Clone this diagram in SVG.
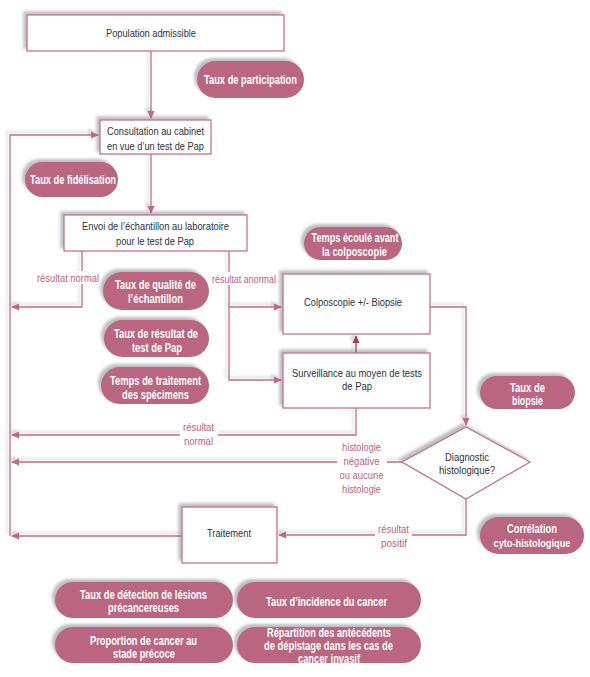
<svg xmlns="http://www.w3.org/2000/svg" width="590" height="677" viewBox="0 0 590 677">
<defs>
<filter id="sh" x="-20%" y="-30%" width="140%" height="160%">
<feDropShadow dx="-3" dy="-3" stdDeviation="1.6" flood-color="#6b7078" flood-opacity="0.45"/>
</filter>
<filter id="lsh" x="-5%" y="-5%" width="110%" height="110%">
<feDropShadow dx="-3" dy="-3" stdDeviation="1.2" flood-color="#8a9098" flood-opacity="0.35"/>
</filter>
<marker id="ah" viewBox="0 0 8 8" refX="7" refY="4" markerWidth="8" markerHeight="8" markerUnits="userSpaceOnUse" orient="auto">
<path d="M0,0.5 L8,4 L0,7.5 Z" fill="#c4668a"/>
</marker>
<marker id="ahd" viewBox="0 0 8 8" refX="7" refY="4" markerWidth="8" markerHeight="8" markerUnits="userSpaceOnUse" orient="auto">
<path d="M0,0.5 L8,4 L0,7.5 Z" fill="#a83a52"/>
</marker>
</defs>
<style>
.box{fill:#fff;stroke:#c8708e;stroke-width:1.3;filter:url(#sh)}
.pill{fill:#bb6681;filter:url(#sh)}
text{font-family:"Liberation Sans",Arial,sans-serif;text-anchor:middle}
.bt{font-size:11.5px;fill:#2b3242}
.pt{font-size:12.5px;font-weight:bold;fill:#fff}
.lt{font-size:11px;fill:#c4607f}
.c{fill:none;stroke:#c66b8b;stroke-width:1.3}
.lb{fill:#fff}
</style>

<g id="connectors" filter="url(#lsh)">
<path class="c" d="M151,51 V118" marker-end="url(#ah)"/>
<path class="c" d="M151,154 V213" marker-end="url(#ah)"/>
<path class="c" d="M10,536 V135 H98" marker-end="url(#ah)"/>
<path class="c" d="M82,251 V307 H12" marker-end="url(#ah)"/>
<path class="c" d="M229,251 V380 H281" marker-end="url(#ah)"/>
<path class="c" d="M229,307 H281" marker-end="url(#ah)"/>
<path class="c" d="M356,353 V336" style="stroke:#a83a52" marker-end="url(#ahd)"/>
<path class="c" d="M430,307 H466 V425" marker-end="url(#ah)"/>
<path class="c" d="M356,408 V435 H12" marker-end="url(#ah)"/>
<path class="c" d="M402,462 H12" marker-end="url(#ah)"/>
<path class="c" d="M466,499 V535 H279" marker-end="url(#ah)"/>
<path class="c" d="M182,536 H12" marker-end="url(#ah)"/>
</g>

<g id="labels">
<rect class="lb" x="36" y="271" width="65" height="13"/>
<text class="lt" x="68" y="282" textLength="62" lengthAdjust="spacingAndGlyphs">résultat normal</text>
<rect class="lb" x="211" y="272" width="66" height="13"/>
<text class="lt" x="244" y="283" textLength="64" lengthAdjust="spacingAndGlyphs">résultat anormal</text>
<rect class="lb" x="180" y="420" width="38" height="28"/>
<text class="lt" x="198.5" y="431" textLength="31" lengthAdjust="spacingAndGlyphs">résultat</text>
<text class="lt" x="198.5" y="445" textLength="29" lengthAdjust="spacingAndGlyphs">normal</text>
<rect class="lb" x="337" y="440" width="50" height="54"/>
<text class="lt" x="361.5" y="451" textLength="39" lengthAdjust="spacingAndGlyphs">histologie</text>
<text class="lt" x="361.5" y="465" textLength="36" lengthAdjust="spacingAndGlyphs">négative</text>
<text class="lt" x="361.5" y="479" textLength="44" lengthAdjust="spacingAndGlyphs">ou aucune</text>
<text class="lt" x="361.5" y="493" textLength="39" lengthAdjust="spacingAndGlyphs">histologie</text>
<rect class="lb" x="375" y="522" width="37" height="27"/>
<text class="lt" x="393.5" y="533" textLength="31" lengthAdjust="spacingAndGlyphs">résultat</text>
<text class="lt" x="394" y="547" textLength="26" lengthAdjust="spacingAndGlyphs">positif</text>
</g>

<g id="population"><rect class="box" x="27" y="15" width="257" height="36"/><text class="bt" x="151" y="37" textLength="90" lengthAdjust="spacingAndGlyphs">Population admissible</text></g>
<g id="consultation"><rect class="box" x="100" y="120" width="111" height="34"/><text class="bt" x="155.5" y="135" textLength="97" lengthAdjust="spacingAndGlyphs">Consultation au cabinet</text><text class="bt" x="155.5" y="150" textLength="97" lengthAdjust="spacingAndGlyphs">en vue d’un test de Pap</text></g>
<g id="envoi"><rect class="box" x="64" y="215" width="183" height="36"/><text class="bt" x="155.5" y="230" textLength="147" lengthAdjust="spacingAndGlyphs">Envoi de l’échantillon au laboratoire</text><text class="bt" x="155" y="245" textLength="78" lengthAdjust="spacingAndGlyphs">pour le test de Pap</text></g>
<g id="colposcopie"><rect class="box" x="283" y="274" width="147" height="60"/><text class="bt" x="353" y="306" textLength="98" lengthAdjust="spacingAndGlyphs">Colposcopie +/- Biopsie</text></g>
<g id="surveillance"><rect class="box" x="283" y="353" width="147" height="55"/><text class="bt" x="357" y="377" textLength="130" lengthAdjust="spacingAndGlyphs">Surveillance au moyen de tests</text><text class="bt" x="357" y="390" textLength="30" lengthAdjust="spacingAndGlyphs">de Pap</text></g>
<g id="diagnostic"><path class="box" d="M466,427 L530,462 L466,499 L402,462 Z"/><text class="bt" x="467" y="461" textLength="44" lengthAdjust="spacingAndGlyphs">Diagnostic</text><text class="bt" x="467" y="474" textLength="56" lengthAdjust="spacingAndGlyphs">histologique?</text></g>
<g id="traitement"><rect class="box" x="182" y="507" width="95" height="56"/><text class="bt" x="229" y="537" textLength="44" lengthAdjust="spacingAndGlyphs">Traitement</text></g>

<g id="taux-participation"><rect class="pill" x="197" y="61" width="107" height="37" rx="18.5"/><text class="pt" x="250.5" y="84" textLength="93" lengthAdjust="spacingAndGlyphs">Taux de participation</text></g>
<g id="taux-fidelisation"><rect class="pill" x="25" y="162" width="93" height="35" rx="17.5"/><text class="pt" x="73" y="184" textLength="86" lengthAdjust="spacingAndGlyphs">Taux de fidélisation</text></g>
<g id="temps-ecoule"><rect class="pill" x="304" y="227" width="98" height="33" rx="16.5"/><text class="pt" x="355" y="241.5" textLength="87" lengthAdjust="spacingAndGlyphs">Temps écoulé avant</text><text class="pt" x="354.5" y="255.5" textLength="65" lengthAdjust="spacingAndGlyphs">la colposcopie</text></g>
<g id="taux-qualite"><rect class="pill" x="103" y="272" width="106" height="38" rx="19"/><text class="pt" x="155.5" y="288.5" textLength="81" lengthAdjust="spacingAndGlyphs">Taux de qualité de</text><text class="pt" x="155.5" y="302.5" textLength="55" lengthAdjust="spacingAndGlyphs">l’échantillon</text></g>
<g id="taux-resultat"><rect class="pill" x="104" y="320" width="105" height="37" rx="18.5"/><text class="pt" x="156" y="337.5" textLength="84" lengthAdjust="spacingAndGlyphs">Taux de résultat de</text><text class="pt" x="157" y="351.5" textLength="50" lengthAdjust="spacingAndGlyphs">test de Pap</text></g>
<g id="temps-traitement"><rect class="pill" x="101" y="367" width="108" height="37" rx="18.5"/><text class="pt" x="155.5" y="384.5" textLength="91" lengthAdjust="spacingAndGlyphs">Temps de traitement</text><text class="pt" x="155.5" y="398.5" textLength="67" lengthAdjust="spacingAndGlyphs">des spécimens</text></g>
<g id="taux-biopsie"><rect class="pill" x="480" y="376" width="95" height="33" rx="16.5"/><text class="pt" x="527.5" y="391.5" textLength="35" lengthAdjust="spacingAndGlyphs">Taux de</text><text class="pt" x="527.5" y="404.5" textLength="31" lengthAdjust="spacingAndGlyphs">biopsie</text></g>
<g id="correlation"><rect class="pill" x="480" y="517" width="104" height="37" rx="18.5"/><text class="pt" x="532" y="532.5" textLength="50" lengthAdjust="spacingAndGlyphs">Corrélation</text><text class="pt" x="532" y="546.5" style="font-size:11.5px" textLength="77" lengthAdjust="spacingAndGlyphs">cyto-histologique</text></g>
<g id="taux-detection"><rect class="pill" x="55" y="582" width="178" height="36" rx="18"/><text class="pt" x="143.5" y="598.5" textLength="127" lengthAdjust="spacingAndGlyphs">Taux de détection de lésions</text><text class="pt" x="143.5" y="611.5" textLength="71" lengthAdjust="spacingAndGlyphs">précancereuses</text></g>
<g id="taux-incidence"><rect class="pill" x="237" y="582" width="184" height="36" rx="18"/><text class="pt" x="326.5" y="605.5" textLength="121" lengthAdjust="spacingAndGlyphs">Taux d’incidence du cancer</text></g>
<g id="proportion"><rect class="pill" x="55" y="627" width="178" height="36" rx="18"/><text class="pt" x="143.5" y="644.5" textLength="107" lengthAdjust="spacingAndGlyphs">Proportion de cancer au</text><text class="pt" x="144" y="657.5" textLength="62" lengthAdjust="spacingAndGlyphs">stade précoce</text></g>
<g id="repartition"><rect class="pill" x="237" y="627" width="184" height="36" rx="18"/><text class="pt" x="329" y="637" textLength="124" lengthAdjust="spacingAndGlyphs">Répartition des antécédents</text><text class="pt" x="328.5" y="650" textLength="129" lengthAdjust="spacingAndGlyphs">de dépistage dans les cas de</text><text class="pt" x="329" y="663" textLength="62" lengthAdjust="spacingAndGlyphs">cancer invasif</text></g>
</svg>
